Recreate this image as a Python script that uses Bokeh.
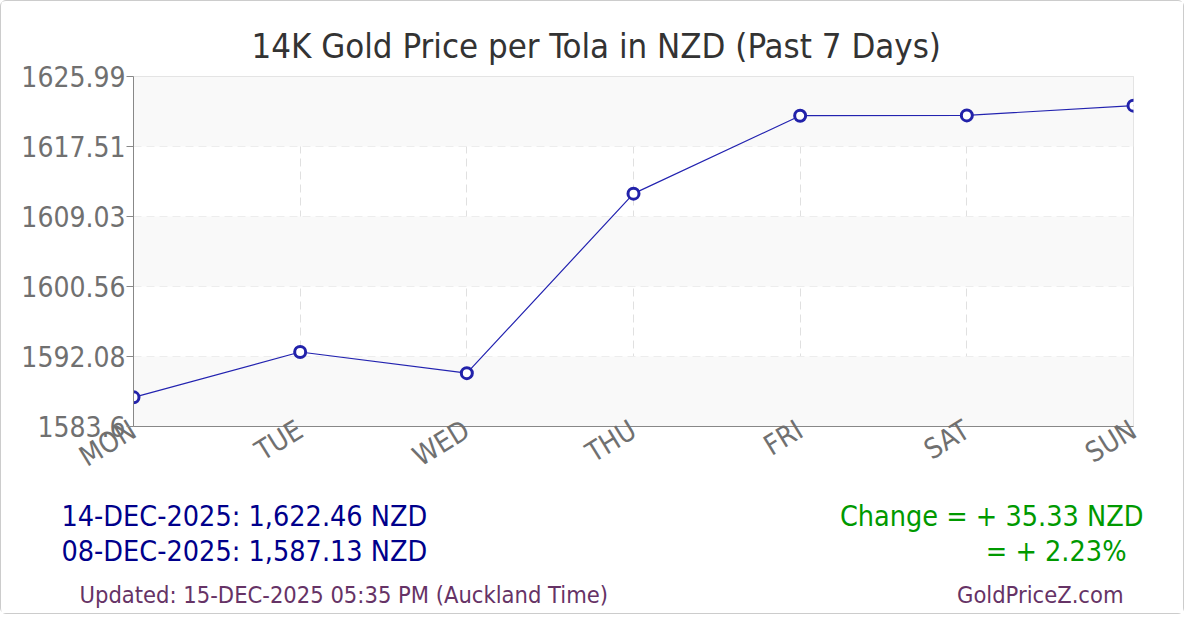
from bokeh.plotting import figure
from bokeh.models import Range1d, FixedTicker, Label, BoxAnnotation, ColumnDataSource
from bokeh.layouts import column
from bokeh.embed import file_html
from bokeh.resources import INLINE

# ---- data ----
days = ["MON", "TUE", "WED", "THU", "FRI", "SAT", "SUN"]
prices = [1587.13, 1592.62, 1590.06, 1611.80, 1621.24, 1621.28, 1622.46]
y_ticks = [1583.6, 1592.08, 1600.56, 1609.03, 1617.51, 1625.99]
y_tick_labels = ["1583.6", "1592.08", "1600.56", "1609.03", "1617.51", "1625.99"]
title_text = "14K Gold Price per Tola in NZD (Past 7 Days)"
latest_text = "14-DEC-2025: 1,622.46 NZD"
first_text = "08-DEC-2025: 1,587.13 NZD"
change_text = "Change = + 35.33 NZD"
pct_text = "= + 2.23%"
updated_text = "Updated: 15-DEC-2025 05:35 PM (Auckland Time)"
site_text = "GoldPriceZ.com"

FONT = "DejaVu Sans Condensed"
W = 1182
CHART_H, BOT_H = 490, 122
xs = list(range(len(days)))

# ---- chart ----
p = figure(width=W, height=CHART_H, output_backend="svg", toolbar_location=None,
           x_range=Range1d(xs[0], xs[-1]), y_range=Range1d(y_ticks[0], y_ticks[-1]),
           min_border_left=132, min_border_right=50, min_border_top=75, min_border_bottom=65,
           frame_align=False)
p.title.text = title_text
p.title.align = "left"
p.title.offset = 118
p.title.standoff = 22
p.title.text_font = FONT
p.title.text_font_size = "34.5px"
p.title.text_font_style = "normal"
p.title.text_color = "#333333"
p.background_fill_color = "white"
p.border_fill_color = "white"
p.outline_line_color = "#dddddd"

for i in range(len(y_ticks) - 1):
    if (len(y_ticks) - 2 - i) % 2 == 0:
        p.add_layout(BoxAnnotation(bottom=y_ticks[i], top=y_ticks[i + 1], fill_color="#f9f9f9",
                                   fill_alpha=1.0, line_alpha=0, level="underlay"))

p.xaxis.ticker = FixedTicker(ticks=xs)
p.xaxis.major_label_overrides = {x: d for x, d in zip(xs, days)}
p.xaxis.major_label_orientation = 0.55
p.yaxis.ticker = FixedTicker(ticks=y_ticks)
p.yaxis.major_label_overrides = {t: s for t, s in zip(y_ticks, y_tick_labels)}
for ax in (p.xaxis, p.yaxis):
    ax.axis_line_color = "#888888"
    ax.major_tick_line_color = "#888888"
    ax.minor_tick_line_color = None
    ax.major_label_text_font = FONT
    ax.major_label_text_font_size = "28px"
    ax.major_label_text_color = "#707070"
p.yaxis.major_tick_out = 7
p.yaxis.major_tick_in = 0
p.yaxis.major_label_standoff = 1
p.xaxis.major_tick_out = 0
p.xaxis.major_tick_in = 0
p.xaxis.major_label_standoff = 1

for g in (p.xgrid, p.ygrid):
    g.grid_line_color = "#e0e0e0"
    g.grid_line_dash = "8 5"
    g.grid_line_width = 1
p.xgrid.ticker = FixedTicker(ticks=xs)
p.ygrid.ticker = FixedTicker(ticks=y_ticks)

src = ColumnDataSource(dict(x=xs, y=prices))
p.line("x", "y", source=src, line_color="#2323b0", line_width=1.2)
p.scatter("x", "y", source=src, size=11, fill_color="white", line_color="#2222aa", line_width=3)

# ---- bottom strip (frame covers the whole canvas) ----
bot = figure(width=W, height=BOT_H, output_backend="svg", toolbar_location=None,
             x_range=Range1d(0, W), y_range=Range1d(0, BOT_H),
             min_border=0, min_border_left=0, min_border_right=0,
             min_border_top=0, min_border_bottom=0, frame_align=False)
bot.axis.visible = False
bot.grid.visible = False
bot.outline_line_color = None
bot.background_fill_color = "white"
bot.border_fill_color = "white"


def lab(f, text, x, y, size, color, align="left"):
    f.add_layout(Label(x=x, y=y, x_units="screen", y_units="screen", text=text,
                       text_font=FONT, text_font_size=size, text_color=color,
                       text_align=align, text_baseline="alphabetic"))


lab(bot, latest_text, 60, 97, "28.5px", "#00008B")
lab(bot, first_text, 60, 62, "28.5px", "#00008B")
lab(bot, change_text, 1142, 97, "28.5px", "#009900", "right")
lab(bot, pct_text, 1125, 62, "28.5px", "#009900", "right")
lab(bot, updated_text, 78, 19, "23.5px", "#663366")
lab(bot, site_text, 1122, 19, "23.5px", "#663366", "right")

layout = column(p, bot, spacing=0)
layout.styles = {"border": "1px solid #cccccc", "border-radius": "6px", "background": "white"}

open("out.html", "w").write(file_html(layout, INLINE))
